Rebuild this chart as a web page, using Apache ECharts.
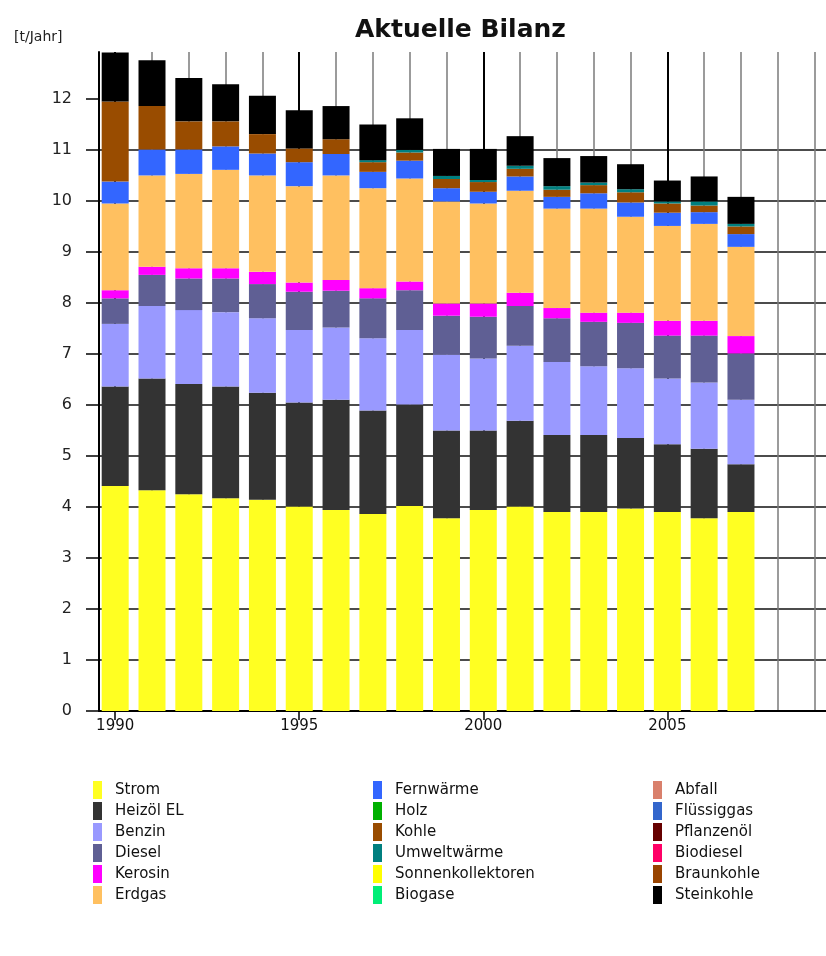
<!DOCTYPE html>
<html>
<head>
<meta charset="utf-8">
<script src="https://cdn.jsdelivr.net/npm/echarts@6/dist/echarts.min.js"></script>
<style>
  html, body { margin: 0; padding: 0; background: #fff; }
  #chart { width: 826px; height: 956px; }
</style>
</head>
<body>
<div id="chart"></div>
<script>
// years on the x axis
const years = [1990, 1991, 1992, 1993, 1994, 1995, 1996, 1997, 1998, 1999, 2000, 2001, 2002, 2003, 2004, 2005, 2006, 2007];
const gridYears = [1990, 1991, 1992, 1993, 1994, 1995, 1996, 1997, 1998, 1999, 2000, 2001, 2002, 2003, 2004, 2005, 2006, 2007, 2008, 2009];
const yearLabels = [1990, 1995, 2000, 2005];
const yTicks = [0, 1, 2, 3, 4, 5, 6, 7, 8, 9, 10, 11, 12];

// t/Jahr per energy source, bottom to top
const strom       = [4.41, 4.33, 4.25, 4.17, 4.14, 4.01, 3.94, 3.86, 4.02, 3.78, 3.94, 4.01, 3.90, 3.90, 3.97, 3.90, 3.78, 3.90];
const heizoel     = [1.95, 2.19, 2.16, 2.19, 2.10, 2.04, 2.16, 2.03, 1.99, 1.72, 1.56, 1.68, 1.51, 1.51, 1.38, 1.33, 1.36, 0.94];
const benzin      = [1.23, 1.42, 1.45, 1.46, 1.46, 1.42, 1.42, 1.42, 1.46, 1.49, 1.41, 1.47, 1.43, 1.35, 1.37, 1.29, 1.30, 1.26];
const diesel      = [0.50, 0.61, 0.62, 0.66, 0.67, 0.75, 0.72, 0.78, 0.78, 0.76, 0.82, 0.78, 0.86, 0.87, 0.89, 0.84, 0.92, 0.91];
const kerosin     = [0.16, 0.16, 0.20, 0.20, 0.24, 0.18, 0.21, 0.20, 0.17, 0.24, 0.26, 0.26, 0.20, 0.18, 0.20, 0.29, 0.29, 0.34];
const erdgas      = [1.70, 1.79, 1.85, 1.93, 1.89, 1.89, 2.05, 1.96, 2.02, 2.00, 1.96, 2.00, 1.95, 2.04, 1.88, 1.86, 1.90, 1.75];
const fernwaerme  = [0.43, 0.51, 0.48, 0.46, 0.43, 0.47, 0.42, 0.32, 0.35, 0.26, 0.23, 0.28, 0.23, 0.30, 0.28, 0.26, 0.23, 0.25];
const holz        = [0, 0, 0, 0, 0, 0, 0, 0, 0, 0, 0, 0, 0, 0, 0, 0, 0, 0];
const kohle       = [1.57, 0.85, 0.55, 0.49, 0.38, 0.27, 0.29, 0.19, 0.16, 0.18, 0.19, 0.15, 0.14, 0.16, 0.20, 0.18, 0.13, 0.15];
const umwelt      = [0, 0, 0, 0, 0, 0, 0, 0.04, 0.05, 0.06, 0.04, 0.06, 0.07, 0.05, 0.06, 0.04, 0.08, 0.05];
const sonne       = [0, 0, 0, 0, 0, 0, 0, 0, 0, 0, 0, 0, 0, 0, 0, 0, 0, 0];
const biogase     = [0, 0, 0, 0, 0, 0, 0, 0, 0, 0, 0, 0, 0, 0, 0, 0, 0, 0];
const abfall      = [0, 0, 0, 0, 0, 0, 0, 0, 0, 0, 0, 0, 0, 0, 0, 0, 0, 0];
const fluessiggas = [0, 0, 0, 0, 0, 0, 0, 0, 0, 0, 0, 0, 0, 0, 0, 0, 0, 0];
const pflanzenoel = [0, 0, 0, 0, 0, 0, 0, 0, 0, 0, 0, 0, 0, 0, 0, 0, 0, 0];
const biodiesel   = [0, 0, 0, 0, 0, 0, 0, 0, 0, 0, 0, 0, 0, 0, 0, 0, 0, 0];
const braunkohle  = [0, 0, 0, 0, 0, 0, 0, 0, 0, 0, 0, 0, 0, 0, 0, 0, 0, 0];
const steinkohle  = [0.96, 0.90, 0.85, 0.73, 0.75, 0.75, 0.65, 0.70, 0.62, 0.53, 0.61, 0.58, 0.55, 0.52, 0.49, 0.41, 0.49, 0.53];

const sources = [
  ['Strom', strom, '#ffff22'],
  ['Heizöl EL', heizoel, '#333333'],
  ['Benzin', benzin, '#9999ff'],
  ['Diesel', diesel, '#5f5f94'],
  ['Kerosin', kerosin, '#ff00ff'],
  ['Erdgas', erdgas, '#ffc060'],
  ['Fernwärme', fernwaerme, '#3366ff'],
  ['Holz', holz, '#00b000'],
  ['Kohle', kohle, '#994c00'],
  ['Umweltwärme', umwelt, '#007f7f'],
  ['Sonnenkollektoren', sonne, '#ffff00'],
  ['Biogase', biogase, '#00ee77'],
  ['Abfall', abfall, '#d9806c'],
  ['Flüssiggas', fluessiggas, '#3366cc'],
  ['Pflanzenöl', pflanzenoel, '#660000'],
  ['Biodiesel', biodiesel, '#ff0066'],
  ['Braunkohle', braunkohle, '#994400'],
  ['Steinkohle', steinkohle, '#000000']
]

const chart = echarts.init(document.getElementById('chart'))

const xMin = 1989.56
const xMax = 2009.31

const legendCol = (names, left) => ({
  orient: 'vertical',
  left: left,
  top: 776,
  itemWidth: 9,
  itemHeight: 18,
  itemGap: 3,
  icon: 'rect',
  selectedMode: false,
  data: names,
  textStyle: { fontFamily: 'DejaVu Sans', fontSize: 15, color: '#111', padding: [0, 0, 0, 8] }
})

const option = {
  animation: false,
  title: [
    { text: 'Aktuelle Bilanz', left: 350, top: 13,
      textStyle: { fontFamily: 'DejaVu Sans', fontSize: 25, fontWeight: 'bold', color: '#111' } },
    { text: '[t/Jahr]', left: 9, top: 25,
      textStyle: { fontFamily: 'DejaVu Sans', fontSize: 14, fontWeight: 'normal', color: '#222' } }
  ],
  legend: [
    legendCol(sources.slice(0, 6).map(s => s[0]), 88),
    legendCol(sources.slice(6, 12).map(s => s[0]), 368),
    legendCol(sources.slice(12).map(s => s[0]), 648)
  ],
  grid: { left: 99, right: 0, top: 52, bottom: 245 },
  xAxis: [
    {
      // thin grey line for every year
      type: 'value', position: 'bottom', min: xMin, max: xMax,
      axisLine: { show: false },
      axisTick: { show: false, customValues: gridYears },
      axisLabel: { show: false },
      splitLine: { show: true, customValues: gridYears, showMinLine: true, showMaxLine: true,
        lineStyle: { color: '#7a7a7a', width: 1.5 } }
    },
    {
      // black line and label every 5 years
      type: 'value', position: 'bottom', min: xMin, max: xMax,
      axisLine: { show: true, onZero: false, lineStyle: { color: '#000', width: 2 } },
      axisTick: { show: true, length: 9, customValues: yearLabels, lineStyle: { color: '#000', width: 1.5 } },
      axisLabel: { show: true, customValues: yearLabels, margin: 8,
        formatter: v => String(v),
        fontFamily: 'DejaVu Sans', fontSize: 15, color: '#111' },
      splitLine: { show: true, customValues: yearLabels, showMinLine: true, showMaxLine: true,
        lineStyle: { color: '#000', width: 2 } }
    }
  ],
  yAxis: {
    type: 'value', min: 0, max: 12.92, interval: 1,
    axisLine: { show: true, lineStyle: { color: '#000', width: 2 } },
    axisTick: { show: true, length: 13, customValues: yTicks, lineStyle: { color: '#000', width: 1.5 } },
    axisLabel: { customValues: yTicks, margin: 27,
      formatter: v => String(v),
      fontFamily: 'DejaVu Sans', fontSize: 16, color: '#222' },
    splitLine: { show: true, showMinLine: false, showMaxLine: false,
      lineStyle: { color: '#111', width: 1.5 } }
  },
  // value first so the stack is built on the y dimension
  series: sources.map(([name, values, color]) => ({
    name: name,
    type: 'bar',
    stack: 'total',
    xAxisIndex: 1,
    barWidth: 27,
    encode: { x: 1, y: 0 },
    itemStyle: { color: color },
    data: years.map((y, i) => [values[i], y])
  }))
}

chart.setOption(option)
</script>
</body>
</html>
